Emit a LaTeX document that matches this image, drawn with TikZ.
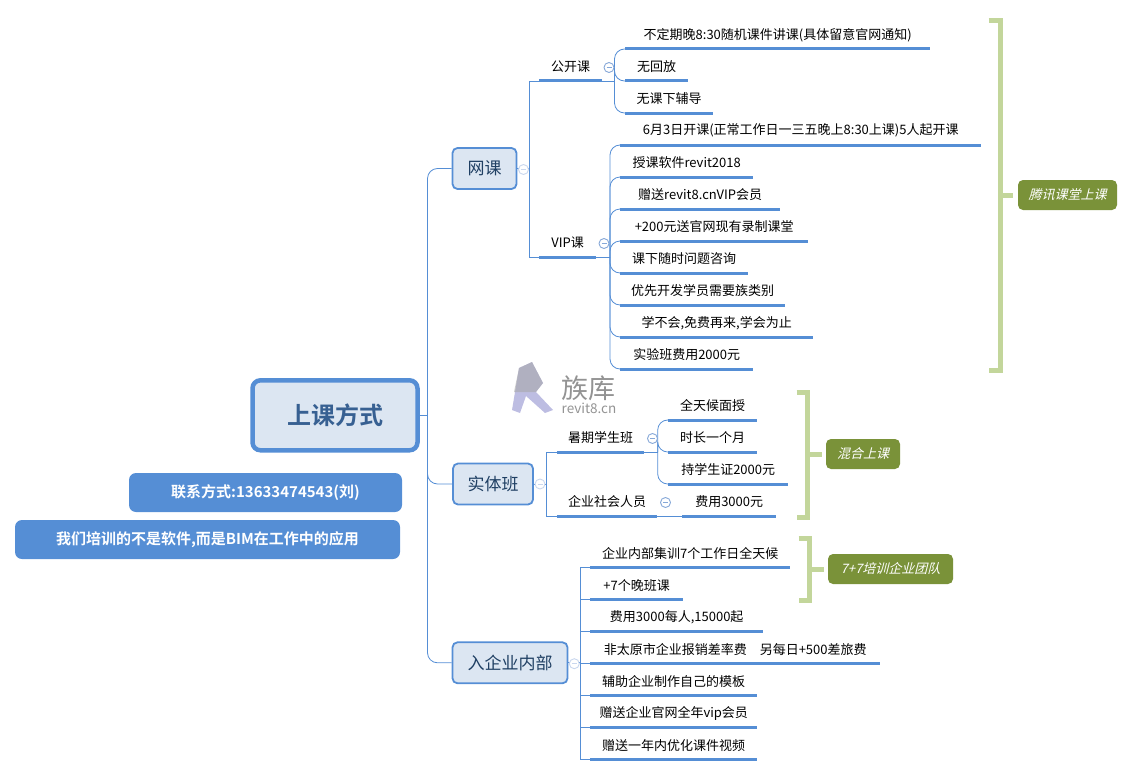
\documentclass[tikz,border=0pt]{standalone}
\usepackage{fontspec}
\setmainfont{Noto Sans CJK SC}[BoldFont={Noto Sans CJK SC Bold}]
\newfontfamily\slantcjk[FakeSlant=0.25]{Noto Sans CJK SC}
\definecolor{mainblue}{HTML}{558ED5}
\definecolor{boxfill}{HTML}{DCE6F2}
\definecolor{darktext}{HTML}{1F3F63}
\definecolor{roottext}{HTML}{376092}
\definecolor{olive}{HTML}{7A9239}
\definecolor{brace}{HTML}{C3D69B}
\definecolor{minusA}{HTML}{C9D7EE}
\definecolor{minusB}{HTML}{86A8D8}
\tikzset{
  leaf/.style={inner sep=0pt,minimum height=28pt,anchor=south west,font=\fontsize{13}{13}\selectfont,text=black},
  ul/.style={draw=mainblue,line width=3pt},
  conn/.style={draw=mainblue,line width=0.8pt},
  soft/.style={draw=mainblue,line width=0.8pt,rounded corners=10pt},
  topic/.style={draw=mainblue,fill=boxfill,line width=1.8pt,rounded corners=5pt,inner sep=0pt,text=darktext,font=\fontsize{17}{17}\selectfont},
  roottopic/.style={draw=mainblue,fill=boxfill,line width=4.5pt,rounded corners=8pt,inner sep=0pt,text=roottext,font=\fontsize{24}{24}\selectfont\bfseries},
  sumbox/.style={fill=olive,rounded corners=5pt,inner sep=0pt,text=white,font=\fontsize{13}{13}\slantcjk},
  note/.style={fill=mainblue,rounded corners=7pt,inner sep=0pt,text=white,font=\fontsize{15}{15}\selectfont\bfseries},
  bracketline/.style={draw=brace,line width=5pt},
  minusA/.style={circle,draw=minusA,fill=white,line width=0.9pt,minimum size=10pt,inner sep=0pt},
  minusB/.style={circle,draw=minusB,fill=white,line width=0.9pt,minimum size=10pt,inner sep=0pt},
}
\newcommand{\leafnode}[5]{%
  \node[leaf,minimum width={#3pt-#2pt}] (#1) at (#2,#4) {#5};
  \draw[ul] (#1.south west) -- (#1.south east);}
\newcommand{\minusmark}[4]{%
  \node[#4] (#1) at (#2,#3) {};
  \draw[#4,draw=#4,line width=0.9pt] ([xshift=-2.5pt]#1.center) -- ([xshift=2.5pt]#1.center);}
\begin{document}
\begin{tikzpicture}[x=1pt,y=-1pt]
\useasboundingbox (0,0) rectangle (1133,776);

% watermark
\fill[fill=black!45!blue!30!white,fill opacity=.85] (532,362) -- (543,383) -- (536,392) -- (553,410) -- (545,413) -- (526,396) -- (520,413) -- (512,410) -- (519,368) -- cycle;
\fill[fill=gray!70,fill opacity=.55] (532,362) -- (519,368) -- (514,392) -- (536,392) -- (543,383) -- cycle;
\node[inner sep=0pt,text=gray!85,font=\fontsize{27}{27}\selectfont] (wm1) at (588.5,388) {族库};
\node[inner sep=0pt,text=gray!85,font=\fontsize{13.5}{13.5}\selectfont] (wm2) at (589,408) {revit8.cn};

% main nodes
\node[roottopic,minimum width=165pt,minimum height=70pt] (root) at (335,415.3) {上课方式};
\node[topic,minimum width=64pt,minimum height=41pt] (wangke) at (484.5,168.5) {网课};
\node[topic,minimum width=80pt,minimum height=41pt] (shiti) at (493,484) {实体班};
\node[topic,minimum width=115pt,minimum height=41pt] (qiye) at (510,662.8) {入企业内部};

\node[note,minimum width=273pt,minimum height=39pt] (contact) at (265.5,492.5) {联系方式:13633474543(刘)};
\node[note,minimum width=385pt,minimum height=39pt] (slogan) at (207.5,539.5) {我们培训的不是软件,而是BIM在工作中的应用};

% level two and leaves
\leafnode{gk}{539}{602}{81}{公开课}
\leafnode{vip}{539}{596}{257}{VIP课}
\leafnode{g1}{625}{930}{49}{不定期晚8:30随机课件讲课(具体留意官网通知)}
\leafnode{g2}{625}{688}{81}{无回放}
\leafnode{g3}{625}{713}{113}{无课下辅导}
\leafnode{v1}{620}{981}{145}{6月3日开课(正常工作日一三五晚上8:30上课)5人起开课}
\leafnode{v2}{620}{753}{177}{授课软件revit2018}
\leafnode{v3}{620}{780}{209}{赠送revit8.cnVIP会员}
\leafnode{v4}{620}{808}{241}{+200元送官网现有录制课堂}
\leafnode{v5}{620}{748}{273}{课下随时问题咨询}
\leafnode{v6}{620}{785}{305}{优先开发学员需要族类别}
\leafnode{v7}{620}{813}{337}{学不会,免费再来,学会为止}
\leafnode{v8}{620}{753}{369}{实验班费用2000元}

\leafnode{sq}{557}{644}{452}{暑期学生班}
\leafnode{sh}{557}{657}{516}{企业社会人员}
\leafnode{s1}{668}{757}{420}{全天候面授}
\leafnode{s2}{668}{757}{452}{时长一个月}
\leafnode{s3}{668}{788}{484}{持学生证2000元}
\leafnode{s4}{682}{776}{516}{费用3000元}

\leafnode{q1}{590}{790}{567.5}{企业内部集训7个工作日全天候}
\leafnode{q2}{590}{683}{599.5}{+7个晚班课}
\leafnode{q3}{590}{763}{631.5}{费用3000每人,15000起}
\leafnode{q4}{590}{880}{663.5}{非太原市企业报销差率费\quad 另每日+500差旅费}
\leafnode{q5}{590}{757}{695.5}{辅助企业制作自己的模板}
\leafnode{q6}{590}{757}{727.5}{赠送企业官网全年vip会员}
\leafnode{q7}{590}{757}{759.5}{赠送一年内优化课件视频}

% junctions
\coordinate (trunkA) at (427.5,415.3);
\coordinate (trunkB) at (529.3,168.5);
\coordinate (trunkC) at (546.7,484);
\coordinate (trunkD) at (580.3,662.8);
\coordinate (forkG) at (614.5,81);
\coordinate (forkV) at (610,257);
\coordinate (forkS) at (657.7,452);

% connectors
\draw[conn] (root.east) -- (trunkA);
\draw[soft] (trunkA) -- (trunkA|-wangke.west) -- (wangke.west);
\draw[soft] (trunkA) -- (trunkA|-shiti.west) -- (shiti.west);
\draw[soft] (trunkA) -- (trunkA|-qiye.west) -- (qiye.west);

\draw[conn] (wangke.east) -- (trunkB);
\draw[conn] (trunkB) -- (trunkB|-gk.south west) -- (gk.south west);
\draw[conn] (trunkB) -- (trunkB|-vip.south west) -- (vip.south west);

\draw[conn] (shiti.east) -- (trunkC);
\draw[conn] (trunkC) -- (trunkC|-sq.south west) -- (sq.south west);
\draw[conn] (trunkC) -- (trunkC|-sh.south west) -- (sh.south west);

\draw[conn] (qiye.east) -- (trunkD);
\foreach \n in {q1,q2,q3,q4,q5,q6,q7}
  \draw[conn] (trunkD) -- (trunkD|-\n.south west) -- (\n.south west);

\draw[conn] (gk.south east) -- (forkG);
\foreach \n in {g1,g2,g3}
  \draw[conn] (forkG) [rounded corners=10pt] -- (forkG|-\n.south west) -- (\n.south west);
\draw[conn] (vip.south east) -- (forkV);
\foreach \n in {v1,v2,v3,v4,v5,v6,v7,v8}
  \draw[conn] (forkV) [rounded corners=10pt] -- (forkV|-\n.south west) -- (\n.south west);
\draw[conn] (sq.south east) -- (forkS);
\foreach \n in {s1,s2,s3}
  \draw[conn] (forkS) [rounded corners=10pt] -- (forkS|-\n.south west) -- (\n.south west);
\draw[conn] (sh.south east) -- (s4.south west);

% collapse marks
\minusmark{mb}{523.5}{169.5}{minusA}
\minusmark{mc}{540}{484}{minusA}
\minusmark{md}{574.3}{663.7}{minusA}
\minusmark{mg}{609}{67.5}{minusB}
\minusmark{mv}{604}{243.5}{minusB}
\minusmark{ms}{652.5}{438.5}{minusB}
\minusmark{mh}{665.5}{502.5}{minusB}

% summaries
\node[sumbox,minimum width=99pt,minimum height=30pt] (sa) at (1067.5,195) {腾讯课堂上课};
\node[sumbox,minimum width=74pt,minimum height=30pt] (sb) at (863,454) {混合上课};
\node[sumbox,minimum width=125pt,minimum height=30pt] (sc) at (890.5,569) {7+7培训企业团队};
\coordinate (ba) at (1000.5,195);
\coordinate (bb) at (807.5,454);
\coordinate (bc) at (809.5,569);
\draw[bracketline] (988.5,20.5) -- (1000.5,20.5) -- (1000.5,370.5) -- (988.5,370.5);
\draw[bracketline] (ba) -- ([xshift=-5pt]sa.west);
\draw[bracketline] (796.5,392.5) -- (807.5,392.5) -- (807.5,517.5) -- (796.5,517.5);
\draw[bracketline] (bb) -- ([xshift=-4pt]sb.west);
\draw[bracketline] (798.5,538.5) -- (809.5,538.5) -- (809.5,600) -- (798.5,600);
\draw[bracketline] (bc) -- ([xshift=-4pt]sc.west);
\end{tikzpicture}
\end{document}
